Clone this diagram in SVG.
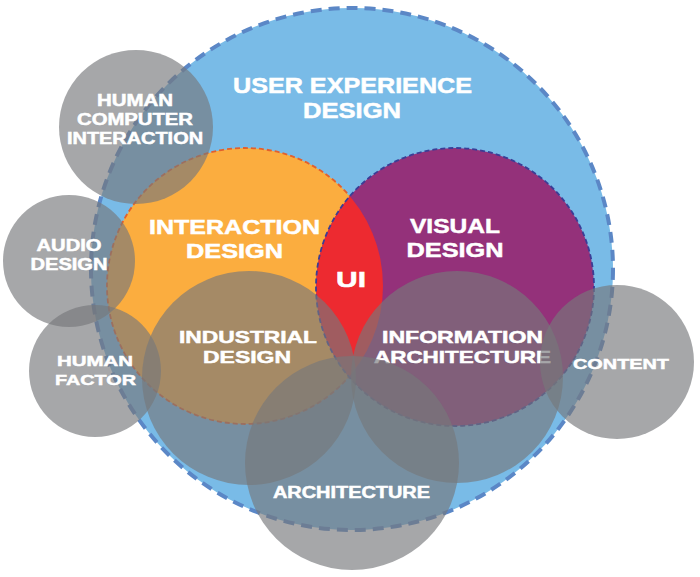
<svg xmlns="http://www.w3.org/2000/svg" width="700" height="577" viewBox="0 0 700 577">
  <defs>
    <clipPath id="orangeClip">
      <circle cx="245" cy="286" r="138"/>
    </clipPath>
    <style>
      .lbl { font-family: "Liberation Sans", Arial, sans-serif; font-weight: bold; fill: #ffffff; stroke: #ffffff; stroke-width: 0.5; text-anchor: middle; }
      .gray { fill: #77787b; fill-opacity: 0.65; }
    </style>
  </defs>
  <rect width="700" height="577" fill="#ffffff"/>

  <g id="ux">
    <circle cx="352" cy="269" r="261" fill="#79bbe7" stroke="#5b87c6" stroke-width="4" stroke-dasharray="11 7"/>
    <text class="lbl" x="352.5" y="93" font-size="22" textLength="239" lengthAdjust="spacingAndGlyphs">USER EXPERIENCE</text>
    <text class="lbl" x="352" y="118" font-size="22" textLength="98" lengthAdjust="spacingAndGlyphs">DESIGN</text>
  </g>

  <g id="interaction-design">
    <circle cx="245" cy="286" r="138" fill="#fbad3f" stroke="#e3602c" stroke-width="1.8" stroke-dasharray="5 3"/>
    <text class="lbl" x="234.5" y="234" font-size="21" textLength="171" lengthAdjust="spacingAndGlyphs">INTERACTION</text>
    <text class="lbl" x="234.5" y="258" font-size="21" textLength="97" lengthAdjust="spacingAndGlyphs">DESIGN</text>
  </g>

  <g id="visual-design">
    <circle cx="455" cy="287" r="139" fill="#94317a"/>
    <text class="lbl" x="455" y="233" font-size="21" textLength="90" lengthAdjust="spacingAndGlyphs">VISUAL</text>
    <text class="lbl" x="455" y="257" font-size="21" textLength="97" lengthAdjust="spacingAndGlyphs">DESIGN</text>
  </g>

  <g id="ui">
    <circle cx="455" cy="287" r="139" fill="#ed2a30" clip-path="url(#orangeClip)"/>
    <circle cx="455" cy="287" r="139" fill="none" stroke="#3b3d96" stroke-width="1.8" stroke-dasharray="5 3"/>
    <text class="lbl" x="351" y="287" font-size="22" textLength="30" lengthAdjust="spacingAndGlyphs">UI</text>
  </g>

  <g id="human-computer-interaction">
    <circle class="gray" cx="136" cy="127" r="77"/>
    <text class="lbl" x="135" y="106" font-size="16" textLength="76" lengthAdjust="spacingAndGlyphs">HUMAN</text>
    <text class="lbl" x="135" y="125" font-size="16" textLength="116" lengthAdjust="spacingAndGlyphs">COMPUTER</text>
    <text class="lbl" x="135" y="144" font-size="16" textLength="136" lengthAdjust="spacingAndGlyphs">INTERACTION</text>
  </g>

  <g id="audio-design">
    <circle class="gray" cx="69" cy="261" r="66"/>
    <text class="lbl" x="69" y="251" font-size="16" textLength="65" lengthAdjust="spacingAndGlyphs">AUDIO</text>
    <text class="lbl" x="69" y="270" font-size="16" textLength="77" lengthAdjust="spacingAndGlyphs">DESIGN</text>
  </g>

  <g id="human-factor">
    <circle class="gray" cx="95" cy="371" r="66"/>
    <text class="lbl" x="95" y="366" font-size="15.5" textLength="76" lengthAdjust="spacingAndGlyphs">HUMAN</text>
    <text class="lbl" x="95.5" y="385" font-size="15.5" textLength="81" lengthAdjust="spacingAndGlyphs">FACTOR</text>
  </g>

  <g id="industrial-design">
    <circle class="gray" cx="249" cy="378" r="107"/>
    <text class="lbl" x="248" y="343" font-size="17" textLength="138" lengthAdjust="spacingAndGlyphs">INDUSTRIAL</text>
    <text class="lbl" x="247" y="363" font-size="17" textLength="88" lengthAdjust="spacingAndGlyphs">DESIGN</text>
  </g>

  <g id="information-architecture">
    <circle class="gray" cx="457" cy="377" r="106"/>
    <text class="lbl" x="462.5" y="343" font-size="17" textLength="161" lengthAdjust="spacingAndGlyphs">INFORMATION</text>
    <text class="lbl" x="462.5" y="363" font-size="17" textLength="177" lengthAdjust="spacingAndGlyphs">ARCHITECTURE</text>
  </g>

  <g id="architecture">
    <circle class="gray" cx="352" cy="463" r="107"/>
    <text class="lbl" x="351.5" y="498" font-size="16" textLength="157" lengthAdjust="spacingAndGlyphs">ARCHITECTURE</text>
  </g>

  <g id="content">
    <circle class="gray" cx="617" cy="362" r="77"/>
    <text class="lbl" x="621" y="369" font-size="15.5" textLength="96" lengthAdjust="spacingAndGlyphs">CONTENT</text>
  </g>

  <g id="connectors"></g>
</svg>
